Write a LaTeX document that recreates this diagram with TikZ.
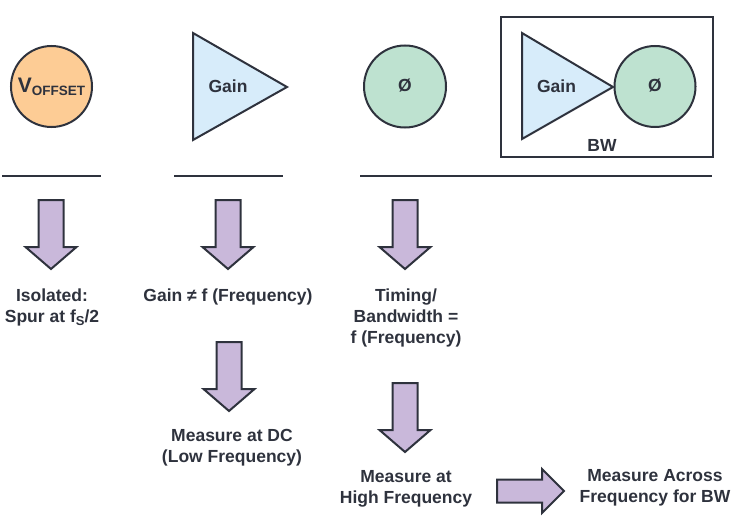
\documentclass[tikz,border=0pt]{standalone}
\usepackage{fontspec}
\setmainfont{Liberation Sans}
\definecolor{ink}{HTML}{2E323D}
\definecolor{orangefill}{HTML}{FDCC95}
\definecolor{bluefill}{HTML}{D7ECFA}
\definecolor{greenfill}{HTML}{BEE2D0}
\definecolor{purplefill}{HTML}{C9B8DA}
\tikzset{
  shp/.style={draw=ink, line width=2pt, line join=miter},
  rule/.style={draw=ink, line width=1.8pt},
  blk/.style={draw=ink, line width=2pt, fill=purplefill, line join=miter},
  lbl/.style={text=ink, align=center, inner sep=0pt,
    font=\fontsize{17.5}{21}\selectfont\bfseries},
  darrow/.pic={
    \draw[blk] (-12.5,0) -- (12.5,0) -- (12.5,47) -- (25.5,47) -- (0,69)
      -- (-25.5,47) -- (-12.5,47) -- cycle;
  }
}
\begin{document}
\begin{tikzpicture}[x=1pt,y=-1pt]
\useasboundingbox (0,0) rectangle (735,516);
% top row
\node[shp, circle, fill=orangefill, minimum size=81pt, inner sep=0pt, text=ink] (voff) at (51.5,86.5)
  {\bfseries\fontsize{21}{21}\selectfont V\raisebox{-3pt}{\fontsize{13.5}{13.5}\selectfont OFFSET}};
\draw[shp, fill=bluefill] (193,33) -- (287,87) -- (193,140) -- cycle;
\node[lbl] (gain1) at (228,86) {Gain};
\node[shp, circle, fill=greenfill, minimum size=82pt, inner sep=0pt] (phi1) at (405,86.5) {};
\node[lbl] (phi1t) at (405,86) {Ø};
\node[shp, rectangle, minimum width=212pt, minimum height=140pt, inner sep=0pt] (bwbox) at (607,87) {};
\draw[shp, fill=bluefill] (522,33) -- (613,87) -- (522,139) -- cycle;
\node[lbl] (gain2) at (556.5,86) {Gain};
\node[shp, circle, fill=greenfill, minimum size=81pt, inner sep=0pt] (phi2) at (655,86.5) {};
\node[lbl] (phi2t) at (655,86) {Ø};
\node[lbl] (bw) at (602,145) {BW};
% rules
\draw[rule] (2,176) -- (101,176);
\draw[rule] (174,176) -- (283,176);
\draw[rule] (360,176) -- (712,176);
% arrows
\pic at (51,200) {darrow};
\pic at (228,200) {darrow};
\pic at (405,200) {darrow};
\pic at (229,342) {darrow};
\pic at (405,383) {darrow};
\draw[blk] (497,479.5) -- (542,479.5) -- (542,469) -- (564,491) -- (542,513)
  -- (542,502.5) -- (497,502.5) -- cycle;
% labels
\node[lbl] (iso) at (52,307.5) {Isolated:\\Spur at f\raisebox{-3pt}{\fontsize{13}{13}\selectfont S}/2};
\node[lbl] (gainf) at (228,297) {Gain ≠ f (Frequency)};
\node[lbl] (timing) at (406,318) {Timing/\\Bandwidth =\\f (Frequency)};
\node[lbl] (dc) at (232,447.5) {Measure at DC\\(Low Frequency)};
\node[lbl] (hf) at (406,489) {Measure at\\High Frequency};
\node[lbl] (across) at (655,488) {Measure Across\\Frequency for BW};
\end{tikzpicture}
\end{document}
